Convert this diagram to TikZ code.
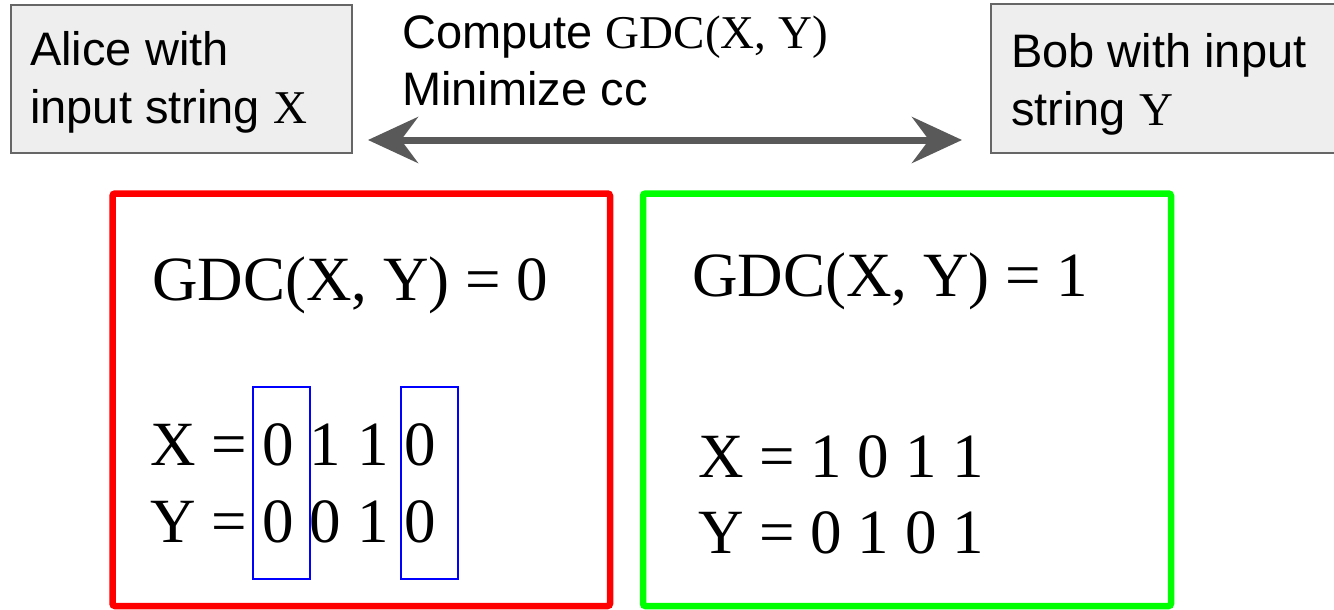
\documentclass[tikz,border=0pt]{standalone}
\usepackage{fontspec}
\setmainfont{Liberation Sans}
\newfontfamily\tms{Liberation Serif}
\usetikzlibrary{arrows.meta}
\definecolor{boxfill}{HTML}{EEEEEE}
\definecolor{boxline}{HTML}{666666}
\definecolor{arrgray}{HTML}{595959}
\definecolor{myred}{HTML}{FF0000}
\definecolor{mygreen}{HTML}{00FF00}
\definecolor{myblue}{HTML}{0000FF}
\tikzset{
  party/.style={draw=boxline, fill=boxfill, line width=1.8pt, inner sep=0pt, outer sep=0pt, anchor=north west},
  sanstext/.style={font=\fontsize{47}{58}\selectfont, align=left, inner sep=0pt, anchor=base west},
  serifbig/.style={font=\tms\fontsize{63}{75}\selectfont, inner sep=0pt, anchor=base west},
  framebox/.style={line width=6.5pt, rounded corners=2.5pt, inner sep=0pt, outer sep=0pt, anchor=north west},
  bluebox/.style={draw=myblue, line width=1.5pt, inner sep=0pt, outer sep=0pt, anchor=north west, minimum width=57pt, minimum height=192pt},
  arr/.style={draw=arrgray, line width=7pt, {Stealth[length=50pt, width=46pt, inset=17pt]}-{Stealth[length=50pt, width=46pt, inset=17pt]}, fill=arrgray}
}
\begin{document}
\begin{tikzpicture}[x=1pt, y=-1pt]
\useasboundingbox (0,0) rectangle (1334,610);
% party boxes
\node[party, minimum width=341pt, minimum height=148pt] (alice) at (11,5) {};
\node[party, minimum width=380pt, minimum height=149pt] (bob) at (991,4) {};
\node[sanstext] (alicetxt) at (30,123) {Alice with\\input string {\tms X}};
\node[sanstext] (bobtxt) at (1011,125) {Bob with input\\string {\tms Y}};
% task
\node[sanstext] (task) at (402,106) {Compute {\tms GDC(X, Y)}\\Minimize cc};
\coordinate (al) at (368,140);
\coordinate (ar) at (962,140);
\draw[arr] (al) -- (ar);
% red case
\node[framebox, draw=myred, minimum width=497.5pt, minimum height=412.5pt] (redbox) at (112.5,193.5) {};
\node[serifbig] (rgdc) at (152,300) {GDC(X, Y) = 0};
\node[serifbig] (rx) at (150,465) {X = 0 1 1 0};
\node[serifbig] (ry) at (150,542) {Y = 0 0 1 0};
\node[bluebox] (b1) at (253,387) {};
\node[bluebox] (b2) at (401,387) {};
% green case
\node[framebox, draw=mygreen, minimum width=528pt, minimum height=412.5pt] (greenbox) at (643,193.5) {};
\node[serifbig] (ggdc) at (692,296) {GDC(X, Y) = 1};
\node[serifbig] (gx) at (698,477) {X = 1 0 1 1};
\node[serifbig] (gy) at (698,553) {Y = 0 1 0 1};
\end{tikzpicture}
\end{document}
